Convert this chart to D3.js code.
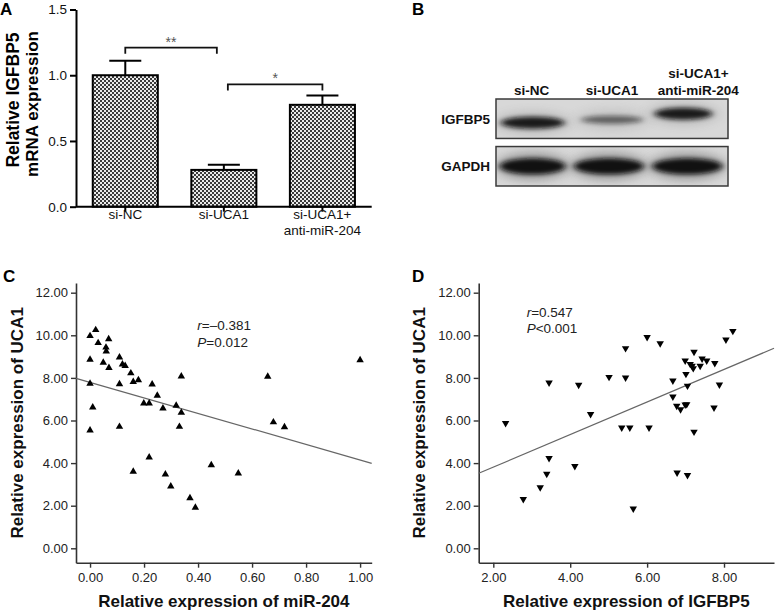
<!DOCTYPE html>
<html><head><meta charset="utf-8">
<script src="https://cdn.jsdelivr.net/npm/d3@7"></script>
<style>
html,body{margin:0;padding:0;background:#fff;}
svg{display:block;font-family:"Liberation Sans",Arial,sans-serif;}
</style></head>
<body>
<svg id="chart" width="775" height="610"></svg>
<script>
// ---------- Panel A data ----------
const barCategories = ["si-NC", "si-UCA1", "si-UCA1+\nanti-miR-204"];
const barValues = [1.00, 0.28, 0.775];
const barErrors = [0.11, 0.04, 0.07];
const barTicks = [0.0, 0.5, 1.0, 1.5];
const sigPairs = [[0, 1], [1, 2]];
const sigLabels = ["**", "*"];
const sigLevels = [1.21, 0.93];

// ---------- Panel B data ----------
const blotLanes = ["si-NC", "si-UCA1", "si-UCA1+\nanti-miR-204"];
const blotRows = ["IGFBP5", "GAPDH"];
const igfbp5Intensity = [0.92, 0.55, 0.92];
const gapdhIntensity = [0.97, 0.97, 0.97];

// ---------- Panel C data ----------
const miR204 = [0.00,0.021,0.03,0.059,0.06,0.069,0.00,0.049,0.07,0.109,0.12,0.13,0.151,0.16,0.179,0.00,0.109,0.23,0.249,0.199,0.219,0.27,0.319,0.338,0.338,0.01,0.00,0.109,0.331,0.219,0.16,0.279,0.299,0.37,0.39,0.658,1.00,0.679,0.72,0.449,0.549];
const uca1C  = [9.97,10.25,9.64,9.43,9.25,9.82,8.86,8.72,8.47,8.97,8.64,8.57,8.22,7.82,7.90,7.73,7.71,7.70,7.17,6.81,6.81,6.57,6.70,6.37,8.07,6.62,5.54,5.71,5.71,4.27,3.60,3.47,2.91,2.36,1.91,8.06,8.84,5.92,5.69,3.91,3.52];
const fitC = [[-0.052, 7.98], [1.043, 3.99]];
const ticksCx = [0.00, 0.20, 0.40, 0.60, 0.80, 1.00];
const ticksY = [0, 2, 4, 6, 8, 10, 12];

// ---------- Panel D data ----------
const igfbp5 = [2.32,3.45,4.22,3.45,3.39,3.22,2.78,4.12,4.53,5.01,5.44,5.44,5.34,5.55,6.05,6.00,6.34,5.64,6.67,6.67,6.77,6.87,6.99,7.03,7.01,7.05,6.99,7.12,7.17,7.22,7.20,7.38,7.43,7.55,7.76,7.88,7.74,7.22,6.78,7.05,8.05,8.23];
const uca1D  = [5.87,7.78,7.67,4.23,3.49,2.86,2.31,3.86,6.30,8.04,9.39,8.01,5.66,5.66,5.66,9.91,9.62,1.86,7.87,7.12,6.68,6.52,6.74,6.76,8.18,7.63,8.81,8.65,8.56,9.22,8.45,8.56,8.90,8.81,8.69,7.68,6.60,5.47,3.55,3.43,9.79,10.20];
const fitD = [[1.62, 3.52], [9.30, 9.39]];
const ticksDx = [2, 4, 6, 8];

const svg = d3.select("#chart");
const defs = svg.append("defs");

// checker pattern
const pat = defs.append("pattern").attr("id","checker").attr("patternUnits","userSpaceOnUse")
  .attr("width",4).attr("height",4);
pat.append("rect").attr("width",4).attr("height",4).attr("fill","#eaeaea");
pat.append("rect").attr("x",0).attr("y",0).attr("width",2).attr("height",2).attr("fill","#3a3a3a");
pat.append("rect").attr("x",2).attr("y",2).attr("width",2).attr("height",2).attr("fill","#3a3a3a");

const blur = defs.append("filter").attr("id","blur").attr("x","-30%").attr("y","-100%").attr("width","160%").attr("height","300%");
blur.append("feGaussianBlur").attr("stdDeviation","3 2.2");
const blurBg = defs.append("filter").attr("id","blurbg").attr("x","-30%").attr("y","-100%").attr("width","160%").attr("height","300%");
blurBg.append("feGaussianBlur").attr("stdDeviation","6 4");

function panelLetter(t, x, y) {
  svg.append("text").attr("x", x).attr("y", y).attr("font-size", 17).attr("font-weight", "bold").text(t);
}

// ================= Panel A =================
(function(){
  const x = d3.scaleBand().domain(d3.range(barCategories.length)).range([76, 371.7]).paddingInner(0.34).paddingOuter(0.17);
  const y = d3.scaleLinear().domain([0, 1.5]).range([206.7, 9.5]);
  const g = svg.append("g");
  g.selectAll("rect.bar").data(barValues).join("rect")
    .attr("x", (d,i) => x(i)).attr("width", x.bandwidth())
    .attr("y", d => y(d)).attr("height", d => y(0) - y(d))
    .attr("fill", "url(#checker)").attr("stroke", "#000").attr("stroke-width", 2);
  barValues.forEach((v,i) => {
    const cx = x(i) + x.bandwidth()/2;
    g.append("line").attr("x1",cx).attr("x2",cx).attr("y1",y(v)).attr("y2",y(v+barErrors[i])).attr("stroke","#000").attr("stroke-width",2);
    g.append("line").attr("x1",cx-16).attr("x2",cx+16).attr("y1",y(v+barErrors[i])).attr("y2",y(v+barErrors[i])).attr("stroke","#000").attr("stroke-width",2);
  });
  const ya = g.append("g").attr("transform","translate(76,0)")
    .call(d3.axisLeft(y).tickValues(barTicks).tickFormat(d3.format(".1f")).tickSize(6).tickSizeOuter(0));
  ya.select(".domain").attr("stroke-width",2);
  ya.selectAll(".tick line").attr("stroke-width",2);
  ya.selectAll("text").attr("font-size",13.5).attr("font-family","Liberation Sans, Arial, sans-serif").attr("fill","#111").attr("x",-9);
  const xa = g.append("g").attr("transform","translate(0,206.7)")
    .call(d3.axisBottom(x).tickSize(5).tickSizeOuter(0).tickFormat(""));
  xa.select(".domain").attr("stroke-width",2).attr("d","M76,0H371.7");
  xa.selectAll(".tick line").attr("stroke-width",2);
  barCategories.forEach((c,i) => {
    const lines = c.split("\n");
    const t = g.append("text").attr("x", x(i)+x.bandwidth()/2).attr("y", 219).attr("text-anchor","middle").attr("font-size",13.5).attr("fill","#111");
    lines.forEach((l,k) => t.append("tspan").attr("x", x(i)+x.bandwidth()/2).attr("dy", k===0?0:16).text(l));
  });
  sigPairs.forEach((p,k) => {
    const x1 = x(p[0]) + x.bandwidth()/2 + (k===1?4:0);
    const x2 = x(p[1]) + x.bandwidth()/2 - (k===0?7:0);
    const yy = y(sigLevels[k]);
    g.append("path").attr("d",`M${x1},${yy+6}V${yy}H${x2}V${yy+6}`).attr("fill","none").attr("stroke","#111").attr("stroke-width",1.8);
    g.append("text").attr("x",(x1+x2)/2).attr("y",yy-1).attr("text-anchor","middle").attr("font-size",14).attr("fill","#555").text(sigLabels[k]);
  });
  g.append("text").attr("transform","translate(19,100) rotate(-90)").attr("text-anchor","middle").attr("font-size",17.5).attr("font-weight","bold").text("Relative IGFBP5");
  g.append("text").attr("transform","translate(38,104) rotate(-90)").attr("text-anchor","middle").attr("font-size",17).attr("font-weight","bold").text("mRNA expression");
  panelLetter("A", 0, 15);
})();

// ================= Panel B =================
(function(){
  const lane = d3.scaleBand().domain(d3.range(blotLanes.length)).range([496, 728]);
  const rowY = d3.scaleBand().domain(blotRows).range([99, 186]).paddingInner(0.17);
  const g = svg.append("g");
  blotRows.forEach(r => {
    g.append("rect").attr("x",496).attr("y",rowY(r)).attr("width",232).attr("height",rowY.bandwidth())
      .attr("fill","#d8d8d8").attr("stroke","#3a3a3a").attr("stroke-width",1.5);
    g.append("text").attr("x",490).attr("y",rowY(r)+rowY.bandwidth()/2+5).attr("text-anchor","end")
      .attr("font-size",13.5).attr("font-weight","bold").attr("fill","#111").text(r);
  });
  blotRows.forEach((r,ri) => {
    defs.append("clipPath").attr("id","clip"+ri).append("rect").attr("x",497).attr("y",rowY(r)+1).attr("width",230).attr("height",rowY.bandwidth()-2);
  });
  const igShift = [4, 1, -5];
  const igW = [64, 62, 58];
  const gi = g.append("g").attr("clip-path","url(#clip0)");
  igfbp5Intensity.forEach((v,i) => {
    const cx = lane(i)+lane.bandwidth()/2 - (i===0?2:(i===2?6:0));
    const cy = rowY("IGFBP5")+rowY.bandwidth()/2 + igShift[i];
    gi.append("ellipse").attr("cx",cx).attr("cy",cy).attr("rx",igW[i]/2+6).attr("ry",11)
      .attr("fill","#9a9a9a").attr("opacity",0.5*v).attr("filter","url(#blurbg)");
    gi.append("ellipse").attr("cx",cx).attr("cy",cy).attr("rx",igW[i]/2).attr("ry",5.5*v+1)
      .attr("fill","#111").attr("opacity",v).attr("filter","url(#blur)");
  });
  const gg = g.append("g").attr("clip-path","url(#clip1)");
  const gW = [66, 70, 70];
  gapdhIntensity.forEach((v,i) => {
    const cx = lane(i)+lane.bandwidth()/2 - (i===0?2:(i===1?3:2));
    const cy = rowY("GAPDH")+rowY.bandwidth()/2;
    gg.append("ellipse").attr("cx",cx).attr("cy",cy).attr("rx",gW[i]/2+4).attr("ry",14)
      .attr("fill","#777").attr("opacity",0.6).attr("filter","url(#blurbg)");
    gg.append("ellipse").attr("cx",cx).attr("cy",cy).attr("rx",gW[i]/2).attr("ry",8)
      .attr("fill","#0d0d0d").attr("opacity",v).attr("filter","url(#blur)");
  });
  blotLanes.forEach((l,i) => {
    const lines = l.split("\n");
    const cx = lane(i)+lane.bandwidth()/2 + (i===0?-3:0) + (i===2?9:0);
    lines.forEach((s,k) => {
      g.append("text").attr("x",cx).attr("y", 95 - (lines.length-1-k)*17).attr("text-anchor","middle")
        .attr("font-size",13.5).attr("font-weight","bold").attr("fill","#111").text(s);
    });
  });
  panelLetter("B", 412, 15);
})();

// ================= Scatter helper =================
function scatter(opts) {
  const x = d3.scaleLinear().domain(opts.xDomain).range(opts.xRange);
  const y = d3.scaleLinear().domain([-0.676, 12.455]).range([562.7, 283]);
  const g = svg.append("g");
  const ya = g.append("g").attr("transform",`translate(${opts.xRange[0]},0)`)
    .call(d3.axisLeft(y).tickValues(ticksY).tickFormat(d3.format(".2f")).tickSize(5).tickSizeOuter(0));
  const xa = g.append("g").attr("transform","translate(0,562.7)")
    .call(d3.axisBottom(x).tickValues(opts.xTicks).tickFormat(d3.format(".2f")).tickSize(5).tickSizeOuter(0));
  [ya, xa].forEach(a => {
    a.select(".domain").attr("stroke","#333").attr("stroke-width",1.6);
    a.selectAll(".tick line").attr("stroke","#333").attr("stroke-width",1.4);
    a.selectAll("text").attr("font-size",13).attr("font-family","Liberation Sans, Arial, sans-serif").attr("fill","#222");
  });
  ya.selectAll("text").attr("x",-8);
  xa.selectAll("text").attr("y",10);
  g.append("line").attr("x1",x(opts.fit[0][0])).attr("y1",y(opts.fit[0][1])).attr("x2",x(opts.fit[1][0])).attr("y2",y(opts.fit[1][1]))
    .attr("stroke","#666").attr("stroke-width",1.2);
  const sym = d3.symbol().type(d3.symbolTriangle).size(24);
  g.selectAll("path.pt").data(opts.xs).join("path")
    .attr("transform",(d,i) => `translate(${x(d)},${y(opts.ys[i])})` + (opts.down ? " rotate(180)" : ""))
    .attr("d", sym).attr("fill","#000");
  g.append("text").attr("x",(opts.xRange[0]+opts.xRange[1])/2).attr("y",607).attr("text-anchor","middle")
    .attr("font-size",17).attr("font-weight","bold").attr("fill","#111").text(opts.xTitle);
  g.append("text").attr("transform",`translate(${opts.yTitleX},${(283+562.7)/2}) rotate(-90)`).attr("text-anchor","middle")
    .attr("font-size",17).attr("font-weight","bold").attr("fill","#111").text("Relative expression of UCA1");
  const a1 = g.append("text").attr("x",opts.annX).attr("y",opts.annY).attr("font-size",13.5).attr("fill","#222");
  a1.append("tspan").attr("font-style","italic").text("r");
  a1.append("tspan").text(opts.rText);
  const a2 = g.append("text").attr("x",opts.annX).attr("y",opts.annY+16.5).attr("font-size",13.5).attr("fill","#222");
  a2.append("tspan").attr("font-style","italic").text("P");
  a2.append("tspan").text(opts.pText);
}

scatter({xDomain:[-0.052, 1.043], xRange:[76, 371.7], xTicks:ticksCx, fit:fitC, xs:miR204, ys:uca1C, down:false,
  xTitle:"Relative expression of miR-204", yTitleX:22.7, annX:197.3, annY:330, rText:"=–0.381", pText:"=0.012"});
scatter({xDomain:[1.62, 9.30], xRange:[478.7, 774], xTicks:ticksDx, fit:fitD, xs:igfbp5, ys:uca1D, down:true,
  xTitle:"Relative expression of IGFBP5", yTitleX:425.3, annX:526.7, annY:316.5, rText:"=0.547", pText:"<0.001"});
panelLetter("C", 3, 282);
panelLetter("D", 412, 282);
</script>
</body></html>
